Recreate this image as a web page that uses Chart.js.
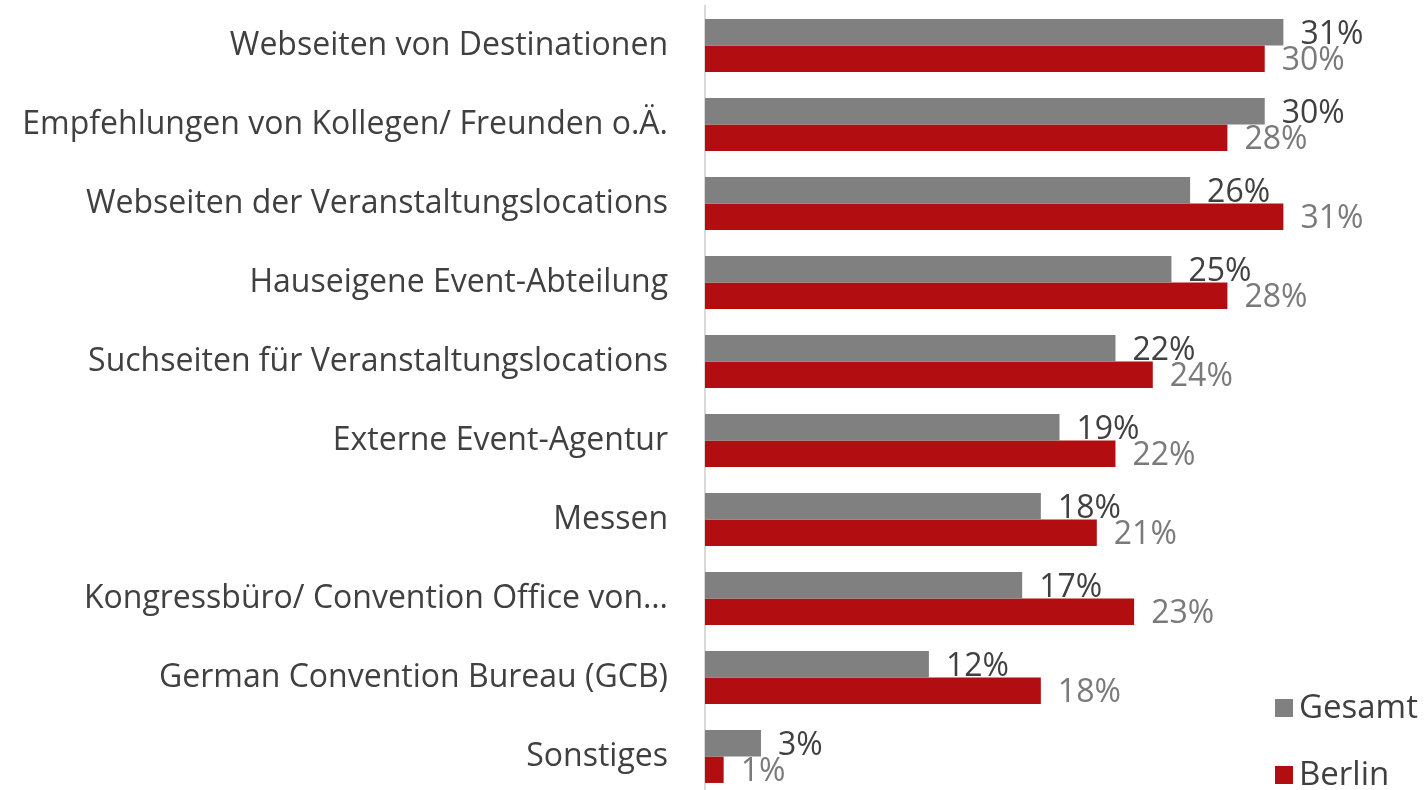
<!DOCTYPE html>
<html>
<head>
<meta charset="utf-8">
<style>
    html, body { margin: 0; padding: 0; background: #fff; overflow: hidden; }
    #wrap { width: 1425px; height: 800px; }
</style>
</head>
<body>
<div id="wrap"><canvas id="myChart" width="1425" height="800"></canvas></div>
<script type="text/javascript" src="https://cdn.jsdelivr.net/npm/chart.js@4.4.2/dist/chart.umd.min.js"></script>
<script>
// data
const categories = [
    'Webseiten von Destinationen',
    'Empfehlungen von Kollegen/ Freunden o.Ä.',
    'Webseiten der Veranstaltungslocations',
    'Hauseigene Event-Abteilung',
    'Suchseiten für Veranstaltungslocations',
    'Externe Event-Agentur',
    'Messen',
    'Kongressbüro/ Convention Office von…',
    'German Convention Bureau (GCB)',
    'Sonstiges'
];
const seriesNames = ['Gesamt', 'Berlin'];
const gesamt = [31, 30, 26, 25, 22, 19, 18, 17, 12, 3];
const berlin = [30, 28, 31, 28, 24, 22, 21, 23, 18, 1];

const FONT = "'Open Sans', sans-serif";
const barColors = ['#808080', '#b20e12'];
const labelColors = ['#404040', '#7a7a7a'];

// value labels at the end of each bar
const valueLabels = {
    id: 'valueLabels',
    afterDatasetsDraw(chart) {
        const ctx = chart.ctx;
        ctx.save();
        ctx.font = '32px ' + FONT;
        ctx.textAlign = 'left';
        ctx.textBaseline = 'middle';
        chart.data.datasets.forEach((ds, i) => {
            const meta = chart.getDatasetMeta(i);
            meta.data.forEach((bar, j) => {
                ctx.fillStyle = labelColors[i];
                ctx.fillText(ds.data[j] + '%', bar.x + 17, bar.y + 2.5);
            });
        });
        ctx.restore();
    }
};

// legend in the lower right corner
const cornerLegend = {
    id: 'cornerLegend',
    afterDraw(chart) {
        const ctx = chart.ctx;
        ctx.save();
        ctx.font = '33px ' + FONT;
        ctx.textBaseline = 'middle';
        ctx.textAlign = 'left';
        const rows = [708, 775];
        chart.data.datasets.forEach((ds, i) => {
            ctx.fillStyle = ds.backgroundColor;
            ctx.fillRect(1275, rows[i] - 9, 18, 18);
            ctx.fillStyle = '#404040';
            ctx.fillText(ds.label, 1299, rows[i] + 1);
        });
        ctx.restore();
    }
};

const config = {
    type: 'bar',
    data: {
        labels: categories,
        datasets: [
            {
                label: seriesNames[0],
                data: gesamt,
                backgroundColor: barColors[0],
                categoryPercentage: 0.67,
                barPercentage: 1.0
            },
            {
                label: seriesNames[1],
                data: berlin,
                backgroundColor: barColors[1],
                categoryPercentage: 0.67,
                barPercentage: 1.0
            }
        ]
    },
    options: {
        indexAxis: 'y',
        responsive: false,
        animation: false,
        layout: {
            padding: { top: 6, bottom: 4, left: 0, right: 11 }
        },
        plugins: {
            legend: { display: false },
            tooltip: { enabled: false }
        },
        scales: {
            x: {
                display: false,
                min: 0,
                max: 38
            },
            y: {
                grid: { display: false, drawTicks: true, tickLength: 37 },
                border: { display: true, color: '#d9d9d9', width: 2 },
                ticks: {
                    color: '#404040',
                    padding: 0,
                    font: { family: FONT, size: 32 }
                },
                afterFit(scale) {
                    scale.width = 705;
                    scale.paddingTop = 0;
                    scale.paddingBottom = 0;
                }
            }
        }
    },
    plugins: [valueLabels, cornerLegend]
};

let myChart = new Chart(document.getElementById('myChart'), config);
</script>
</body>
</html>
